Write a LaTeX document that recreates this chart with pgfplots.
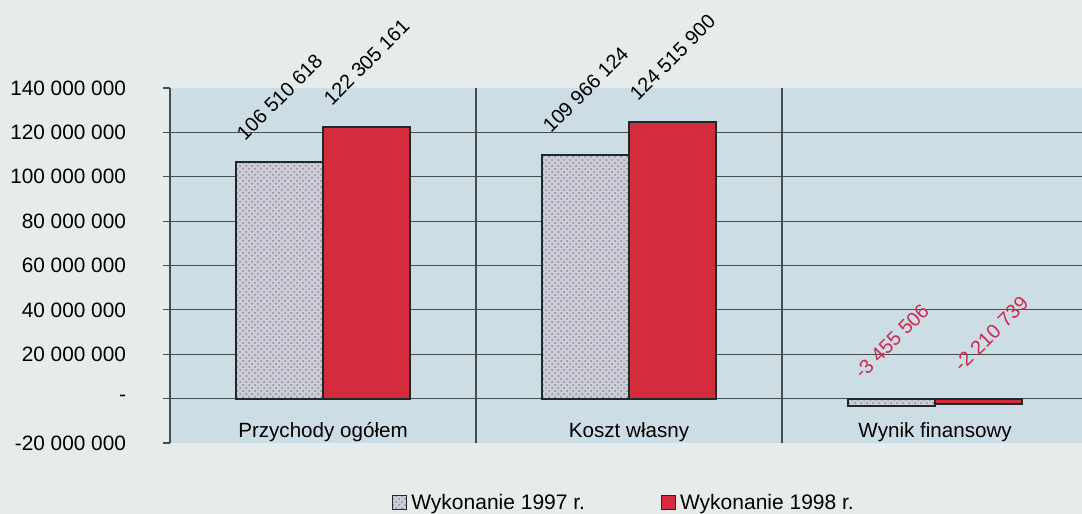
\documentclass[border=0pt]{standalone}
\usepackage{fontspec}
\setmainfont{Liberation Sans}
\usepackage{pgfplots}
\pgfplotsset{compat=1.18}
\usetikzlibrary{patterns}

\definecolor{pagebg}{RGB}{230,236,236}
\definecolor{plotbg}{RGB}{205,221,230}
\definecolor{gridc}{RGB}{68,78,78}
\definecolor{barline}{RGB}{28,42,40}
\definecolor{bar97}{RGB}{204,204,218}
\definecolor{bar98}{RGB}{212,44,60}
\definecolor{negred}{RGB}{205,42,78}

\begin{document}
\begin{tikzpicture}
\useasboundingbox[fill=pagebg] (-85pt,-35.5pt) rectangle (456pt,221.5pt);
\begin{axis}[
  scale only axis,
  width=456pt, height=177.5pt,
  ybar, bar width=0.284,
  xmin=-0.5, xmax=2.48,
  ymin=-20000000, ymax=140000000,
  axis background/.style={fill=plotbg},
  axis x line*=bottom, axis y line*=left,
  x axis line style={draw=none},
  y axis line style={gridc, line width=0.6pt},
  xtick={0,1,2},
  xticklabels={Przychody ogółem, Koszt własny, Wynik finansowy},
  major x tick style={draw=none},
  xticklabel style={anchor=center, yshift=9pt, font=\fontsize{10.3}{12}\selectfont},
  minor xtick={0.5,1.5},
  xminorgrids,
  minor tick length=0pt,
  minor grid style={gridc, line width=0.6pt},
  ytick={-20000000,0,20000000,40000000,60000000,80000000,100000000,120000000,140000000},
  yticklabels={-20 000 000, -, 20 000 000, 40 000 000, 60 000 000, 80 000 000, 100 000 000, 120 000 000, 140 000 000},
  scaled y ticks=false,
  yticklabel style={xshift=-15pt, font=\fontsize{10.4}{12}\selectfont},
  tick align=outside,
  major tick length=3.5pt,
  tick style={gridc, line width=0.6pt},
  extra y ticks={0,20000000,40000000,60000000,80000000,100000000,120000000},
  extra y tick labels={},
  extra y tick style={ymajorgrids=true},
  major grid style={gridc, line width=0.6pt},
  nodes near coords,
  nodes near coords align={center},
  point meta=explicit symbolic,
  every node near coord/.append style={font=\fontsize{10}{12}\selectfont, yshift=32.5pt, rotate=45, anchor=center},
  legend style={at={(0.499,-0.169)}, anchor=center, draw=none, fill=none,
    legend columns=2, font=\fontsize{10.5}{12}\selectfont,
    /tikz/every even column/.append style={column sep=36pt}},
  legend image code/.code={\draw[#1, line width=0.5pt] (0pt,-3.5pt) rectangle (7pt,3.5pt);},
]
% Przychody ogolem, Koszt wlasny
\addplot[bar shift=-0.142, fill=bar97, draw=barline, line width=1pt,
  postaction={pattern=crosshatch dots, pattern color=black!45}]
  coordinates {(0,106510618) [106 510 618] (1,109966124) [109 966 124]};
\addlegendentry{Wykonanie 1997 r.}
\addplot[bar shift=0.142, fill=bar98, draw=barline, line width=1pt]
  coordinates {(0,122305161) [122 305 161] (1,124515900) [124 515 900]};
\addlegendentry{Wykonanie 1998 r.}
% Wynik finansowy (ujemny)
\addplot[forget plot, bar shift=-0.142, fill=bar97, draw=barline, line width=1pt,
  postaction={pattern=crosshatch dots, pattern color=black!45},
  every node near coord/.append style={text=negred}]
  coordinates {(2,-3455506) [-3 455 506]};
\addplot[forget plot, bar shift=0.142, fill=bar98, draw=barline, line width=1pt,
  every node near coord/.append style={text=negred, xshift=6pt, yshift=-2.8pt}]
  coordinates {(2,-2210739) [-2 210 739]};
\end{axis}
\end{tikzpicture}
\end{document}
